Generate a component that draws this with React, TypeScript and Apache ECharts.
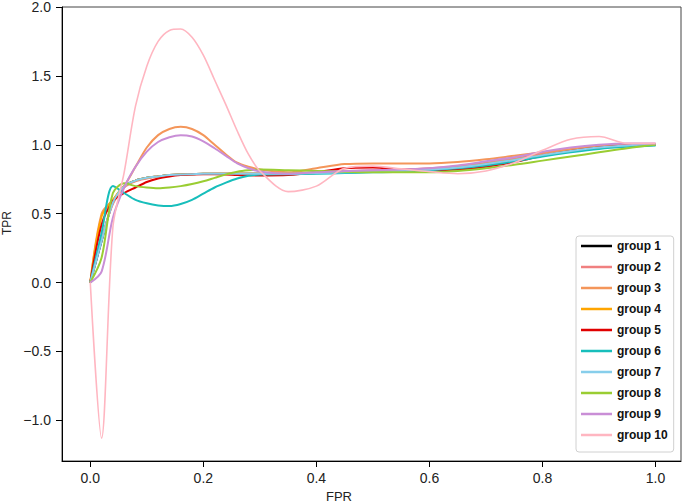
import React, { useEffect, useRef } from "react";
import * as echarts from "echarts";

const FPR = [0, 0.02, 0.04, 0.06, 0.08, 0.1, 0.12, 0.14, 0.16, 0.18, 0.2, 0.22, 0.24, 0.26, 0.28, 0.3, 0.35, 0.4, 0.45, 0.5, 0.55, 0.6, 0.65, 0.7, 0.75, 0.8, 0.85, 0.9, 0.95, 1.0];

const GROUP_NAMES = ["group 1", "group 2", "group 3", "group 4", "group 5", "group 6", "group 7", "group 8", "group 9", "group 10"];
const GROUP_COLORS = ["#000000", "#f08080", "#f4965a", "#ffa500", "#e00000", "#17bebb", "#87ceeb", "#9acd32", "#c98ed6", "#ffb6c1"];

const TPR_G1 = [0, 0.30, 0.58, 0.70, 0.74, 0.76, 0.77, 0.78, 0.785, 0.787, 0.79, 0.79, 0.79, 0.79, 0.79, 0.79, 0.79, 0.795, 0.80, 0.805, 0.81, 0.82, 0.835, 0.86, 0.89, 0.925, 0.955, 0.98, 0.995, 1.005];
const TPR_G2 = [0, 0.32, 0.57, 0.69, 0.735, 0.755, 0.77, 0.778, 0.783, 0.786, 0.788, 0.789, 0.79, 0.79, 0.79, 0.79, 0.792, 0.80, 0.81, 0.815, 0.82, 0.83, 0.845, 0.87, 0.90, 0.935, 0.96, 0.985, 1.0, 1.005];
const TPR_G3 = [0, 0.50, 0.60, 0.70, 0.84, 0.98, 1.07, 1.115, 1.13, 1.115, 1.07, 1.0, 0.93, 0.87, 0.84, 0.82, 0.80, 0.83, 0.86, 0.865, 0.865, 0.865, 0.875, 0.895, 0.92, 0.945, 0.97, 0.99, 1.0, 1.0];
const TPR_G4 = [0, 0.48, 0.60, 0.70, 0.74, 0.76, 0.77, 0.78, 0.785, 0.787, 0.79, 0.79, 0.79, 0.79, 0.79, 0.79, 0.79, 0.795, 0.80, 0.805, 0.81, 0.82, 0.835, 0.86, 0.89, 0.925, 0.955, 0.98, 0.995, 1.005];
const TPR_G5 = [0, 0.42, 0.59, 0.65, 0.69, 0.73, 0.755, 0.77, 0.78, 0.785, 0.787, 0.787, 0.785, 0.78, 0.778, 0.777, 0.78, 0.80, 0.83, 0.835, 0.82, 0.815, 0.82, 0.84, 0.875, 0.92, 0.955, 0.98, 0.995, 1.0];
const TPR_G6 = [0, 0.36, 0.70, 0.65, 0.60, 0.575, 0.56, 0.555, 0.57, 0.60, 0.645, 0.69, 0.725, 0.755, 0.775, 0.785, 0.787, 0.79, 0.795, 0.80, 0.805, 0.815, 0.83, 0.85, 0.88, 0.915, 0.945, 0.97, 0.985, 0.995];
const TPR_G7 = [0, 0.30, 0.58, 0.70, 0.74, 0.76, 0.77, 0.78, 0.785, 0.787, 0.79, 0.79, 0.79, 0.79, 0.79, 0.79, 0.79, 0.795, 0.80, 0.805, 0.81, 0.82, 0.835, 0.86, 0.89, 0.925, 0.955, 0.98, 0.995, 1.005];
const TPR_G8 = [0, 0.18, 0.65, 0.72, 0.70, 0.69, 0.685, 0.69, 0.70, 0.715, 0.735, 0.76, 0.785, 0.805, 0.815, 0.82, 0.815, 0.81, 0.805, 0.80, 0.80, 0.80, 0.81, 0.83, 0.855, 0.885, 0.915, 0.945, 0.975, 1.0];
const TPR_G9 = [0, 0.08, 0.47, 0.69, 0.84, 0.95, 1.02, 1.055, 1.07, 1.06, 1.025, 0.975, 0.92, 0.865, 0.83, 0.806, 0.79, 0.80, 0.81, 0.815, 0.82, 0.83, 0.85, 0.88, 0.91, 0.95, 0.98, 1.0, 1.01, 1.01];
const TPR_G10 = [0, -1.13, 0.40, 0.80, 1.28, 1.57, 1.75, 1.83, 1.84, 1.78, 1.65, 1.47, 1.29, 1.10, 0.93, 0.81, 0.66, 0.70, 0.83, 0.845, 0.825, 0.805, 0.79, 0.81, 0.87, 0.96, 1.04, 1.06, 1.01, 1.01];

const TPR_ALL = [TPR_G1, TPR_G2, TPR_G3, TPR_G4, TPR_G5, TPR_G6, TPR_G7, TPR_G8, TPR_G9, TPR_G10];

const X_TICKS = [0, 0.2, 0.4, 0.6, 0.8, 1.0];
const Y_TICKS = [-1.0, -0.5, 0, 0.5, 1.0, 1.5, 2.0];

const FONT = "'Liberation Sans', Arial, sans-serif";

function fmt(v: number): string {
  const s = Math.abs(v).toFixed(1);
  return v < -1e-9 ? "\u2212" + s : s;
}

export default function App() {
  const ref = useRef<HTMLDivElement>(null);
  useEffect(() => {
    if (!ref.current) return;
    const chart = echarts.init(ref.current, null, { renderer: "svg" });
    const series = TPR_ALL.map((vals, gi) => ({
      name: GROUP_NAMES[gi],
      type: "line",
      data: FPR.map((x, i) => [x, vals[i]]),
      showSymbol: false,
      symbol: "none",
      smooth: 0.3,
      color: GROUP_COLORS[gi],
      lineStyle: { width: gi === 9 ? 1.6 : 2, color: GROUP_COLORS[gi] },
      emphasis: { disabled: true },
      silent: true,
    }));
    chart.setOption({
      animation: false,
      backgroundColor: "#ffffff",
      grid: {
        left: 62,
        right: 4,
        top: 5,
        bottom: 42,
        show: true,
        borderColor: "#444",
        borderWidth: 1,
        backgroundColor: "transparent",
      },
      xAxis: {
        type: "value",
        min: -0.05,
        max: 1.045,
        splitLine: { show: false },
        axisLine: { show: true, onZero: false, lineStyle: { color: "#000", width: 1 } },
        axisTick: { show: true, inside: false, length: 6, customValues: X_TICKS, lineStyle: { color: "#000" } },
        axisLabel: {
          customValues: X_TICKS,
          formatter: (v: number) => fmt(v),
          margin: 10,
          fontSize: 14,
          color: "#222",
          fontFamily: FONT,
        },
      },
      yAxis: {
        type: "value",
        min: -1.295,
        max: 2.0,
        splitLine: { show: false },
        axisLine: { show: true, onZero: false, lineStyle: { color: "#000", width: 1 } },
        axisTick: { show: true, inside: false, length: 6, customValues: Y_TICKS, lineStyle: { color: "#000" } },
        axisLabel: {
          customValues: Y_TICKS,
          formatter: (v: number) => fmt(v),
          margin: 11,
          fontSize: 14,
          color: "#222",
          fontFamily: FONT,
        },
      },
      legend: {
        orient: "vertical",
        left: 576,
        top: 236,
        padding: [3, 6, 10, 5],
        itemWidth: 31,
        itemHeight: 2.5,
        itemGap: 7,
        icon: "rect",
        backgroundColor: "#ffffff",
        borderColor: "#d0d0d0",
        borderWidth: 1,
        borderRadius: 3,
        textStyle: { fontSize: 12, fontWeight: "bold", color: "#111", lineHeight: 14, fontFamily: FONT },
        data: GROUP_NAMES,
      },
      graphic: [
        {
          type: "text",
          x: 7,
          y: 223,
          rotation: Math.PI / 2,
          style: { text: "TPR", fontSize: 12, fill: "#222", fontFamily: FONT, textAlign: "center", textVerticalAlign: "middle" },
        },
        {
          type: "text",
          x: 339,
          y: 496,
          style: { text: "FPR", fontSize: 13, fill: "#222", fontFamily: FONT, textAlign: "center", textVerticalAlign: "middle" },
        },
      ],
      series,
    });
    return () => chart.dispose();
  }, []);
  return <div ref={ref} style={{ position: "fixed", left: 0, top: 0, width: 685, height: 503 }} />;
}
